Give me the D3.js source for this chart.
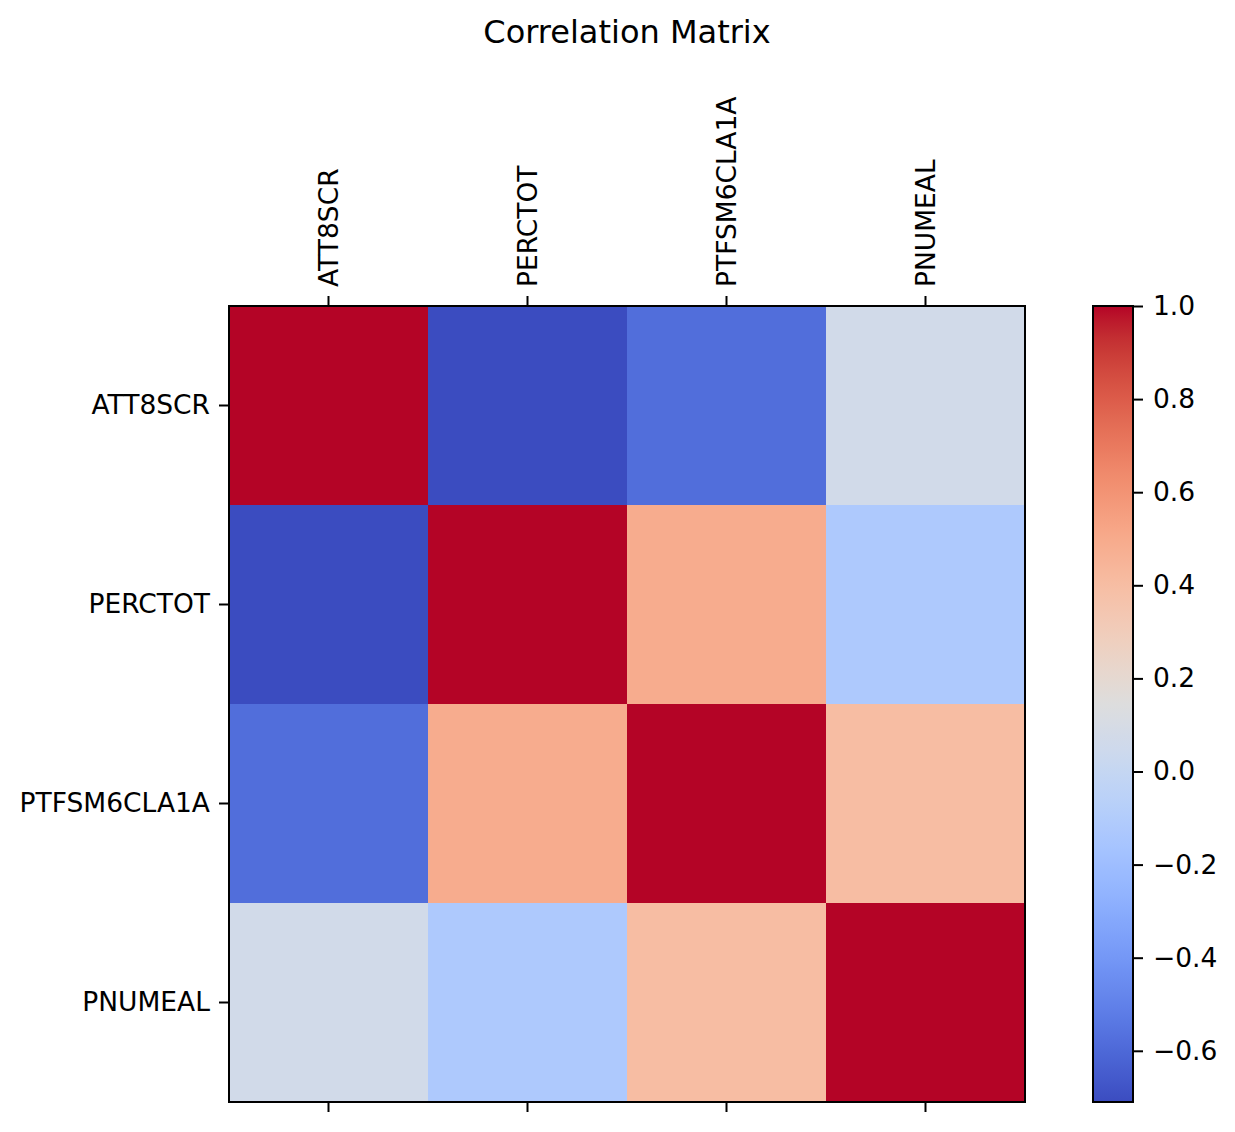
<!DOCTYPE html>
<html>
<head>
<meta charset="utf-8">
<script src="https://cdn.jsdelivr.net/npm/d3@7"></script>
<style>
  body { margin: 0; background: #fff; }
  text { font-family: "DejaVu Sans", sans-serif; fill: #000; }
</style>
</head>
<body>
<svg id="chart" width="1235" height="1132"></svg>
<script>
// variables on both axes
var labels = ['ATT8SCR', 'PERCTOT', 'PTFSM6CLA1A', 'PNUMEAL'];

// correlation rows
var rowATT8SCR = [1.0, -0.71, -0.58, 0.07];
var rowPERCTOT = [-0.71, 1.0, 0.49, -0.12];
var rowPTFSM6CLA1A = [-0.58, 0.49, 1.0, 0.40];
var rowPNUMEAL = [0.07, -0.12, 0.40, 1.0];
var matrix = [rowATT8SCR, rowPERCTOT, rowPTFSM6CLA1A, rowPNUMEAL];

var colorbarTicks = [-0.6, -0.4, -0.2, 0.0, 0.2, 0.4, 0.6, 0.8, 1.0];

// coolwarm control points (Moreland)
var coolwarm = [
  [59,76,192],[68,90,204],[77,104,215],[87,117,225],[98,130,234],[108,142,241],
  [119,154,247],[130,165,251],[141,176,254],[152,185,255],[163,194,255],[174,201,253],
  [184,208,249],[194,213,244],[204,217,238],[213,219,230],[221,221,221],[229,216,209],
  [236,211,197],[241,204,185],[245,196,173],[247,187,160],[247,177,148],[247,166,135],
  [244,154,123],[241,141,111],[236,127,99],[229,112,88],[222,96,77],[213,80,66],
  [203,62,56],[192,40,47],[180,4,38]
];

var vmin = d3.min(matrix, function(r) { return d3.min(r); });
var vmax = d3.max(matrix, function(r) { return d3.max(r); });

var cmap = d3.scaleLinear()
  .domain(coolwarm.map(function(c, i) { return i / (coolwarm.length - 1); }))
  .range(coolwarm.map(function(c) { return d3.rgb(c[0], c[1], c[2]); }))
  .interpolate(d3.interpolateRgb)
  .clamp(true);
var norm = d3.scaleLinear().domain([vmin, vmax]).range([0, 1]);
function color(v) { return cmap(norm(v)); }

var svg = d3.select('#chart');

var plotLeft = 229, plotTop = 306, size = 796;

var x = d3.scaleBand().domain(labels).range([plotLeft, plotLeft + size]);
var y = d3.scaleBand().domain(labels).range([plotTop, plotTop + size]);

var cells = [];
matrix.forEach(function(row, i) {
  row.forEach(function(v, j) { cells.push({ r: labels[i], c: labels[j], v: v }); });
});

svg.append('g').selectAll('rect')
  .data(cells)
  .enter().append('rect')
  .attr('x', function(d) { return x(d.c); })
  .attr('y', function(d) { return y(d.r); })
  .attr('width', x.bandwidth() + 0.5)
  .attr('height', y.bandwidth() + 0.5)
  .attr('fill', function(d) { return color(d.v); })
  .attr('shape-rendering', 'crispEdges');

// axes
var fontSize = 26.5;
var xTop = svg.append('g')
  .attr('transform', 'translate(0,' + plotTop + ')')
  .call(d3.axisTop(x).tickSize(10));
xTop.selectAll('.tick text')
  .attr('transform', 'rotate(-90)')
  .attr('x', 19).attr('y', 0).attr('dy', '0.35em')
  .style('text-anchor', 'start');

svg.append('g')
  .attr('transform', 'translate(0,' + (plotTop + size) + ')')
  .call(d3.axisBottom(x).tickSize(10).tickFormat(''));

svg.append('g')
  .attr('transform', 'translate(' + plotLeft + ',0)')
  .call(d3.axisLeft(y).tickSize(10).tickPadding(9));

svg.selectAll('.domain').remove();
svg.selectAll('.tick line').attr('stroke', '#000').attr('stroke-width', 2);
svg.selectAll('.tick text').style('font-size', fontSize + 'px').attr('fill', '#000');

svg.append('rect')
  .attr('x', plotLeft).attr('y', plotTop)
  .attr('width', size).attr('height', size)
  .attr('fill', 'none').attr('stroke', '#000').attr('stroke-width', 2);

// colorbar
var cbX = 1093, cbW = 40;
var cy = d3.scaleLinear().domain([vmin, vmax]).range([plotTop + size, plotTop]);

var grad = svg.append('defs').append('linearGradient')
  .attr('id', 'cb').attr('x1', 0).attr('y1', 1).attr('x2', 0).attr('y2', 0);
d3.range(0, 1.0001, 0.02).forEach(function(t) {
  grad.append('stop').attr('offset', t).attr('stop-color', cmap(t));
});

svg.append('rect')
  .attr('x', cbX).attr('y', plotTop)
  .attr('width', cbW).attr('height', size)
  .attr('fill', 'url(#cb)');

var cbAxis = svg.append('g')
  .attr('transform', 'translate(' + (cbX + cbW) + ',0)')
  .call(d3.axisRight(cy).tickValues(colorbarTicks).tickFormat(d3.format('.1f')).tickSize(10).tickPadding(10));
cbAxis.select('.domain').remove();
cbAxis.selectAll('.tick line').attr('stroke', '#000').attr('stroke-width', 2);
cbAxis.selectAll('.tick text').style('font-size', fontSize + 'px').attr('fill', '#000');

svg.append('rect')
  .attr('x', cbX).attr('y', plotTop)
  .attr('width', cbW).attr('height', size)
  .attr('fill', 'none').attr('stroke', '#000').attr('stroke-width', 2);

svg.append('text')
  .attr('x', 627).attr('y', 43)
  .attr('text-anchor', 'middle')
  .style('font-size', '32px')
  .text('Correlation Matrix');
</script>
</body>
</html>
